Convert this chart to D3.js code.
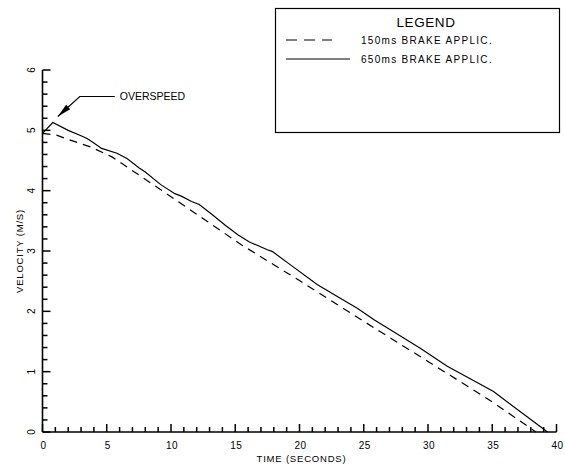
<!DOCTYPE html>
<html>
<head>
<meta charset="utf-8">
<script src="https://cdn.jsdelivr.net/npm/d3@7"></script>
<style>
  html, body { margin: 0; padding: 0; background: #fff; }
  svg { display: block; }
  text { font-family: "Liberation Sans", Arial, sans-serif; fill: #000; }
</style>
</head>
<body>
<svg id="chart" width="565" height="467"></svg>
<script>
// Velocity decay after brake application, two brake delays
const time150 = [0, 1.1, 2.0, 3.8, 5.4, 7.5, 10, 15.5, 20, 26.3, 30, 35, 38.4];
const vel150  = [4.95, 4.92, 4.85, 4.72, 4.56, 4.26, 3.90, 3.10, 2.51, 1.66, 1.17, 0.50, 0];

const time650 = [0, 0.8, 2.0, 3.0, 3.5, 4.0, 4.6, 5.8, 6.6, 7.5, 8.0, 9.2, 10.3, 10.8, 11.6, 12.2, 13.1, 14.2, 15.2, 16.1, 17.5, 17.9, 19.3, 21.4, 23.7, 24.5, 25.8, 27.1, 29.4, 31.5, 35.1, 39.3];
const vel650  = [4.95, 5.13, 5.00, 4.91, 4.86, 4.79, 4.70, 4.62, 4.53, 4.38, 4.31, 4.10, 3.95, 3.91, 3.82, 3.77, 3.62, 3.43, 3.27, 3.15, 3.02, 2.99, 2.77, 2.44, 2.15, 2.05, 1.86, 1.69, 1.39, 1.09, 0.67, 0];

const xMajorTicks = [0, 5, 10, 15, 20, 25, 30, 35, 40];
const yMajorTicks = [0, 1, 2, 3, 4, 5, 6];
const xMinorStep = 1;
const yMinorStep = 0.2;
const legendLabels = ["150ms BRAKE APPLIC.", "650ms BRAKE APPLIC."];
const legendTitle = "LEGEND";
const xTitle = "TIME (SECONDS)";
const yTitle = "VELOCITY (M/S)";
const noteText = "OVERSPEED";

const svg = d3.select("#chart");
const x = d3.scaleLinear().domain([0, 40]).range([42.5, 556.5]);
const y = d3.scaleLinear().domain([0, 6]).range([432, 70]);

const xMinor = d3.range(0, 40 + 1e-9, xMinorStep).filter(v => !xMajorTicks.includes(v));
const yMinor = d3.range(0, 6 + 1e-9, yMinorStep).map(v => +v.toFixed(1)).filter(v => !yMajorTicks.includes(v));

// axis lines
svg.append("line").attr("x1", x(0)).attr("x2", x(40)).attr("y1", y(0)).attr("y2", y(0))
  .attr("stroke", "#000").attr("stroke-width", 1.6);
svg.append("line").attr("x1", x(0)).attr("x2", x(0)).attr("y1", y(0)).attr("y2", y(6))
  .attr("stroke", "#000").attr("stroke-width", 1.6);

// ticks point into the plot; major ones are longer
const tickG = svg.append("g");
xMinor.forEach(d => tickG.append("rect").attr("x", x(d) - 0.75).attr("y", y(0) - 5).attr("width", 1.5).attr("height", 5).attr("fill", "#000"));
xMajorTicks.forEach(d => tickG.append("rect").attr("x", x(d) - 0.75).attr("y", y(0) - 8).attr("width", 1.5).attr("height", 8).attr("fill", "#000"));
yMinor.forEach(d => tickG.append("rect").attr("x", x(0)).attr("y", y(d) - 0.75).attr("width", 5).attr("height", 1.5).attr("fill", "#000"));
yMajorTicks.forEach(d => tickG.append("rect").attr("x", x(0)).attr("y", y(d) - 0.75).attr("width", 8).attr("height", 1.5).attr("fill", "#000"));

// tick labels
svg.append("g").selectAll("text").data(xMajorTicks).join("text")
  .attr("x", d => x(d) + 1).attr("y", y(0) + 17)
  .attr("text-anchor", "middle").attr("font-size", 10).attr("letter-spacing", 0.5)
  .text(d => d);
svg.append("g").selectAll("text").data(yMajorTicks).join("text")
  .attr("transform", d => `translate(${x(0) - 11},${y(d)}) rotate(-90)`)
  .attr("text-anchor", "middle").attr("dominant-baseline", "central")
  .attr("font-size", 10)
  .text(d => d);

// axis titles
svg.append("text")
  .attr("x", (x(0) + x(40)) / 2 + 2).attr("y", 462)
  .attr("text-anchor", "middle").attr("font-size", 9.5).attr("letter-spacing", 0.8)
  .text(xTitle);
svg.append("text")
  .attr("transform", `translate(19,${y(3)}) rotate(-90)`)
  .attr("text-anchor", "middle").attr("dominant-baseline", "central")
  .attr("font-size", 9.5).attr("letter-spacing", 0.8)
  .text(yTitle);

// curves
const line = d3.line().x(d => x(d[0])).y(d => y(d[1]));
svg.append("path")
  .datum(d3.zip(time150, vel150))
  .attr("d", line).attr("fill", "none").attr("stroke", "#000")
  .attr("stroke-width", 1.2).attr("stroke-dasharray", "8,6");
svg.append("path")
  .datum(d3.zip(time650, vel650))
  .attr("d", line).attr("fill", "none").attr("stroke", "#000")
  .attr("stroke-width", 1.2);

// overspeed callout pointing at the peak of the 650ms curve
const iPeak = d3.maxIndex(vel650);
const tip = [x(time650[iPeak]) + 5, y(vel650[iPeak]) - 6];
const elbow = [tip[0] + 22, tip[1] - 20];
const end = [elbow[0] + 35, elbow[1]];
svg.append("path")
  .attr("d", `M${end[0]},${end[1]}L${elbow[0]},${elbow[1]}L${tip[0]},${tip[1]}`)
  .attr("fill", "none").attr("stroke", "#000").attr("stroke-width", 1.2);
{
  const dx = elbow[0] - tip[0], dy = elbow[1] - tip[1];
  const len = Math.hypot(dx, dy), ux = dx / len, uy = dy / len;
  const headLen = 14, headW = 3;
  const bx = tip[0] + ux * headLen, by = tip[1] + uy * headLen;
  svg.append("path")
    .attr("d", `M${tip[0]},${tip[1]}L${bx - uy * headW},${by + ux * headW}L${bx + uy * headW},${by - ux * headW}Z`)
    .attr("fill", "#000");
}
svg.append("text")
  .attr("x", end[0] + 5).attr("y", end[1] + 4)
  .attr("font-size", 10.5)
  .text(noteText);

// legend
const lg = svg.append("g");
lg.append("rect")
  .attr("x", 275.5).attr("y", 8.5).attr("width", 284).attr("height", 124)
  .attr("fill", "#fff").attr("stroke", "#000").attr("stroke-width", 1.2);
lg.append("text")
  .attr("x", 426).attr("y", 26.5).attr("text-anchor", "middle")
  .attr("font-size", 13.5).attr("letter-spacing", 0.6)
  .text(legendTitle);
const legendRows = [
  { label: legendLabels[0], y: 40, x2: 332, dash: "11,7" },
  { label: legendLabels[1], y: 59, x2: 350, dash: null }
];
legendRows.forEach(r => {
  lg.append("line")
    .attr("x1", 286).attr("x2", r.x2).attr("y1", r.y).attr("y2", r.y)
    .attr("stroke", "#000").attr("stroke-width", 1.2)
    .attr("stroke-dasharray", r.dash);
  lg.append("text")
    .attr("x", 361).attr("y", r.y + 4)
    .attr("font-size", 10).attr("letter-spacing", 1.3)
    .text(r.label);
});
</script>
</body>
</html>
